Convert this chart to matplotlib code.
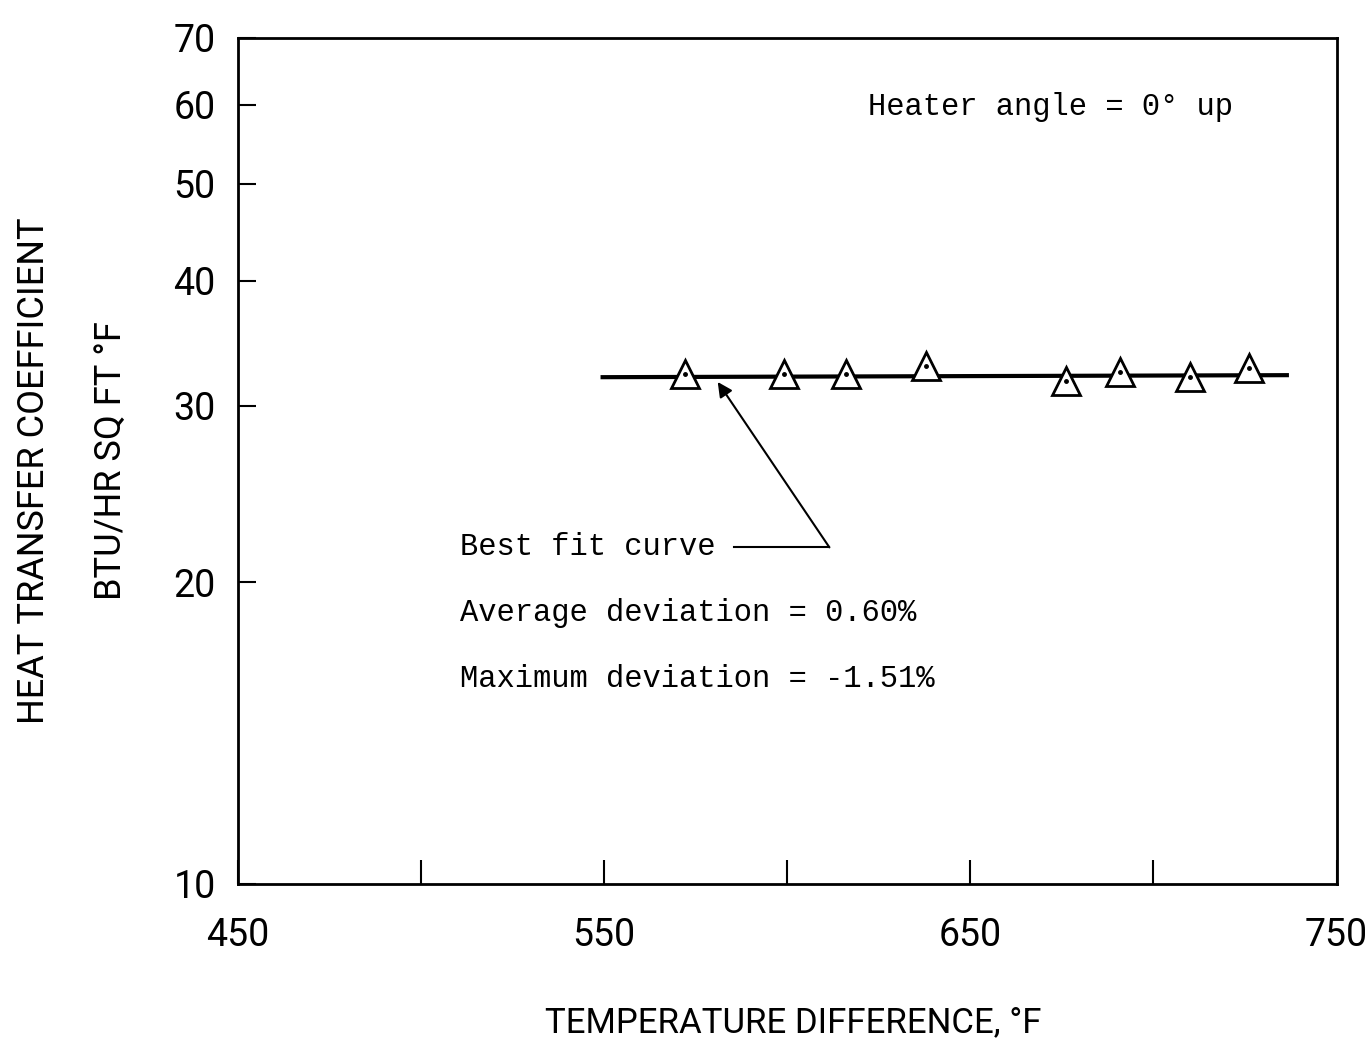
import numpy as np
import matplotlib
matplotlib.use('Agg')
import matplotlib.pyplot as plt
from matplotlib.ticker import FixedLocator, NullLocator, NullFormatter

# Data
dT = [572, 599, 616, 638, 676, 691, 710, 726]
hCoef = [32.3, 32.3, 32.3, 32.9, 31.8, 32.4, 32.1, 32.7]

fitX = [549, 737]
fitY = [32.05, 32.2]

xTicks = [450, 500, 550, 600, 650, 700, 750]
xLabels = ['450', '', '550', '', '650', '', '750']
yTicks = [10, 20, 30, 40, 50, 60, 70]
yLabels = ['10', '20', '30', '40', '50', '60', '70']

# Fonts: a narrow-ish sans for the lettering, a mono for the typed notes
condFam = ['Roboto', 'DejaVu Sans']
monoFont = ['Liberation Mono', 'DejaVu Sans Mono']

fig = plt.figure(figsize=(13.68, 10.42), dpi=100)
ax = fig.add_axes([0.174, 0.152, 0.803, 0.812])

# Best fit line and data points
ax.plot(fitX, fitY, color='black', lw=3, solid_capstyle='butt', zorder=2)
ax.plot(dT, hCoef, ls='none', marker='^', ms=20, mfc='white', mec='black',
        mew=2, zorder=3)
ax.plot(dT, hCoef, ls='none', marker='o', ms=2.5, color='black', zorder=4)

# Axes format
ax.set_yscale('log')
ax.set_xlim(450, 750)
ax.set_ylim(10, 70)
ax.xaxis.set_major_locator(FixedLocator(xTicks))
ax.set_xticklabels(xLabels)
ax.yaxis.set_major_locator(FixedLocator(yTicks))
ax.yaxis.set_minor_locator(NullLocator())
ax.yaxis.set_minor_formatter(NullFormatter())
ax.set_yticklabels(yLabels)
ax.tick_params(axis='x', direction='in', length=17, width=1.5, pad=24,
               labelsize=27)
ax.tick_params(axis='y', direction='in', length=13, width=1.5, pad=16,
               labelsize=27)
for lab in ax.get_xticklabels() + ax.get_yticklabels():
    lab.set_family(condFam)
for sp in ax.spines.values():
    sp.set_linewidth(2)

# Annotation texts
ax.text(622, 59.6, 'Heater angle = 0\u00b0 up', family=monoFont, fontsize=22,
        va='center', ha='left')
ax.text(510.5, 21.7, 'Best fit curve', family=monoFont, fontsize=22,
        va='center', ha='left')
ax.text(510.5, 18.65, 'Average deviation = 0.60%', family=monoFont,
        fontsize=22, va='center', ha='left')
ax.text(510.5, 16.0, 'Maximum deviation = -1.51%', family=monoFont,
        fontsize=22, va='center', ha='left')

# Leader line with arrow to the fit
ax.plot([585.5, 611.5], [21.67, 21.67], color='black', lw=1.5)
ax.annotate('', xy=(581, 31.7), xytext=(611.5, 21.67),
            arrowprops=dict(arrowstyle='-|>', color='black', lw=1.5,
                            mutation_scale=22, shrinkA=0, shrinkB=0))

# Axis labels
fig.text(0.58, 0.019, 'TEMPERATURE DIFFERENCE, \u00b0F', ha='center',
         va='center', fontsize=25, family=condFam)
fig.text(0.025, 0.548, 'HEAT TRANSFER COEFFICIENT', ha='center', va='center',
         rotation=90, fontsize=26, family=condFam)
fig.text(0.081, 0.558, 'BTU/HR SQ FT \u00b0F', ha='center', va='center',
         rotation=90, fontsize=26, family=condFam)

plt.savefig('out.png', dpi=100)
plt.close()
